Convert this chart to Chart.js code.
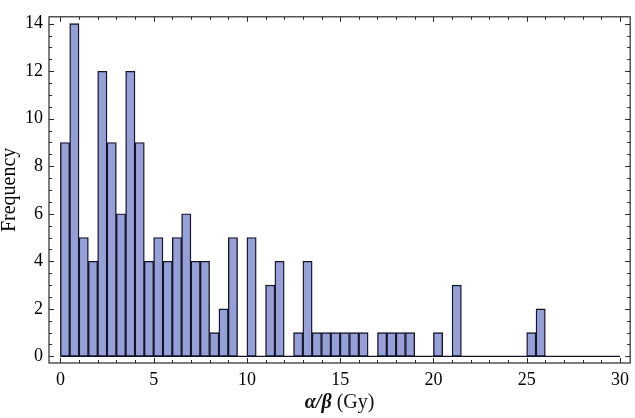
<!DOCTYPE html>
<html>
<head>
<meta charset="utf-8">
<script src="https://cdn.jsdelivr.net/npm/chart.js@4/dist/chart.umd.min.js"></script>
<style>
  html, body { margin: 0; padding: 0; background: #fff; }
  #wrap { width: 635px; height: 418px; }
</style>
</head>
<body>
<div id="wrap"><canvas id="c" width="635" height="418"></canvas></div>
<script>
// ---- data (histogram of alpha/beta, bin width 0.5 Gy) ----
const binCenters = [
  0.25, 0.75, 1.25, 1.75, 2.25, 2.75, 3.25, 3.75, 4.25, 4.75,
  5.25, 5.75, 6.25, 6.75, 7.25, 7.75, 8.25, 8.75, 9.25, 9.75,
  10.25, 10.75, 11.25, 11.75, 12.25, 12.75, 13.25, 13.75, 14.25, 14.75,
  15.25, 15.75, 16.25, 16.75, 17.25, 17.75, 18.25, 18.75, 19.25, 19.75,
  20.25, 20.75, 21.25, 21.75, 22.25, 22.75, 23.25, 23.75, 24.25, 24.75,
  25.25, 25.75, 26.25, 26.75, 27.25, 27.75, 28.25, 28.75, 29.25, 29.75
];
const frequencies = [
  9, 14, 5, 4, 12, 9, 6, 12, 9, 4,
  5, 4, 5, 6, 4, 4, 1, 2, 5, 0,
  5, 0, 3, 4, 0, 1, 4, 1, 1, 1,
  1, 1, 1, 0, 1, 1, 1, 1, 0, 0,
  1, 0, 3, 0, 0, 0, 0, 0, 0, 0,
  1, 2, 0, 0, 0, 0, 0, 0, 0, 0
];
const baselineRange = [0, 30];
const xTickLabels = [0, 5, 10, 15, 20, 25, 30];
const yTickLabels = [0, 2, 4, 6, 8, 10, 12, 14];
const yTitle = 'Frequency';
const xTitleSymbol = 'α/β';
const xTitleUnit = ' (Gy)';

// ---- styles ----
const FONT = "'Liberation Serif', 'Times New Roman', serif";
const barFill = '#97A0D6';
const barEdge = '#15152a';
const frameColor = '#2a2a2a';

const framePlugin = {
  id: 'frame',
  afterDraw(chart) {
    const ctx = chart.ctx;
    const a = chart.chartArea;
    const xs = chart.scales.x, ys = chart.scales.y;
    ctx.save();
    ctx.strokeStyle = frameColor;
    ctx.lineWidth = 1.2;
    ctx.strokeRect(a.left, a.top, a.right - a.left, a.bottom - a.top);
    ctx.lineWidth = 1;
    ctx.beginPath();
    // x ticks (major every 5, minor every 1)
    for (let v = 0; v <= 30; v += 1) {
      const len = (v % 5 === 0) ? 5 : 3;
      const px = Math.round(xs.getPixelForValue(v)) + 0.5;
      ctx.moveTo(px, a.bottom); ctx.lineTo(px, a.bottom - len);
      ctx.moveTo(px, a.top); ctx.lineTo(px, a.top + len);
    }
    // y ticks (major every 2, minor every 0.5)
    for (let v = 0; v <= 14; v += 0.5) {
      const len = (v % 2 === 0) ? 5 : 3;
      const py = Math.round(ys.getPixelForValue(v)) + 0.5;
      ctx.moveTo(a.left, py); ctx.lineTo(a.left + len, py);
      ctx.moveTo(a.right, py); ctx.lineTo(a.right - len, py);
    }
    ctx.stroke();

    // x axis title with mixed styles
    const cx = (a.left + a.right) / 2;
    const y = 408;
    ctx.fillStyle = '#111';
    ctx.textBaseline = 'alphabetic';
    ctx.font = "italic bold 20px " + FONT;
    const w1 = ctx.measureText(xTitleSymbol).width;
    ctx.font = "20px " + FONT;
    const w2 = ctx.measureText(xTitleUnit).width;
    let x0 = cx - (w1 + w2) / 2;
    ctx.textAlign = 'left';
    ctx.font = "italic bold 20px " + FONT;
    ctx.fillText(xTitleSymbol, x0, y);
    ctx.font = "20px " + FONT;
    ctx.fillText(xTitleUnit, x0 + w1, y);
    ctx.restore();
  }
};

new Chart(document.getElementById('c'), {
  type: 'bar',
  data: {
    datasets: [
      {
        type: 'line',
        data: baselineRange.map(v => ({ x: v, y: 0 })),
        borderColor: barEdge,
        borderWidth: 1.3,
        pointRadius: 0,
        order: 2
      },
      {
        data: binCenters.map((c, i) => ({ x: c, y: frequencies[i] })),
        backgroundColor: barFill,
        borderColor: barEdge,
        borderWidth: 1.4,
        borderSkipped: false,
        barPercentage: 1,
        categoryPercentage: 1,
        order: 1
      }
    ]
  },
  options: {
    responsive: false,
    animation: false,
    layout: { padding: { top: 3, right: 4, left: 0, bottom: 0 } },
    plugins: { legend: { display: false }, tooltip: { enabled: false } },
    scales: {
      x: {
        type: 'linear',
        min: -0.61,
        max: 30.55,
        offset: false,
        grid: { display: false, drawTicks: false },
        border: { display: false },
        afterBuildTicks(s) { s.ticks = xTickLabels.map(v => ({ value: v })); },
        afterFit(s) { s.height = 55; },
        ticks: {
          autoSkip: false,
          maxRotation: 0,
          padding: 6,
          color: '#000',
          font: { family: FONT, size: 18 }
        }
      },
      y: {
        min: -0.28,
        max: 14.29,
        grid: { display: false, drawTicks: false },
        border: { display: false },
        afterBuildTicks(s) { s.ticks = yTickLabels.map(v => ({ value: v })); },
        afterFit(s) { s.width = 49; },
        ticks: {
          padding: 6,
          color: '#000',
          font: { family: FONT, size: 18 }
        },
        title: {
          display: true,
          text: yTitle,
          color: '#000',
          padding: { top: 0, bottom: 0 },
          font: { family: FONT, size: 20, lineHeight: 1 }
        }
      }
    }
  },
  plugins: [framePlugin]
});
</script>
</body>
</html>
